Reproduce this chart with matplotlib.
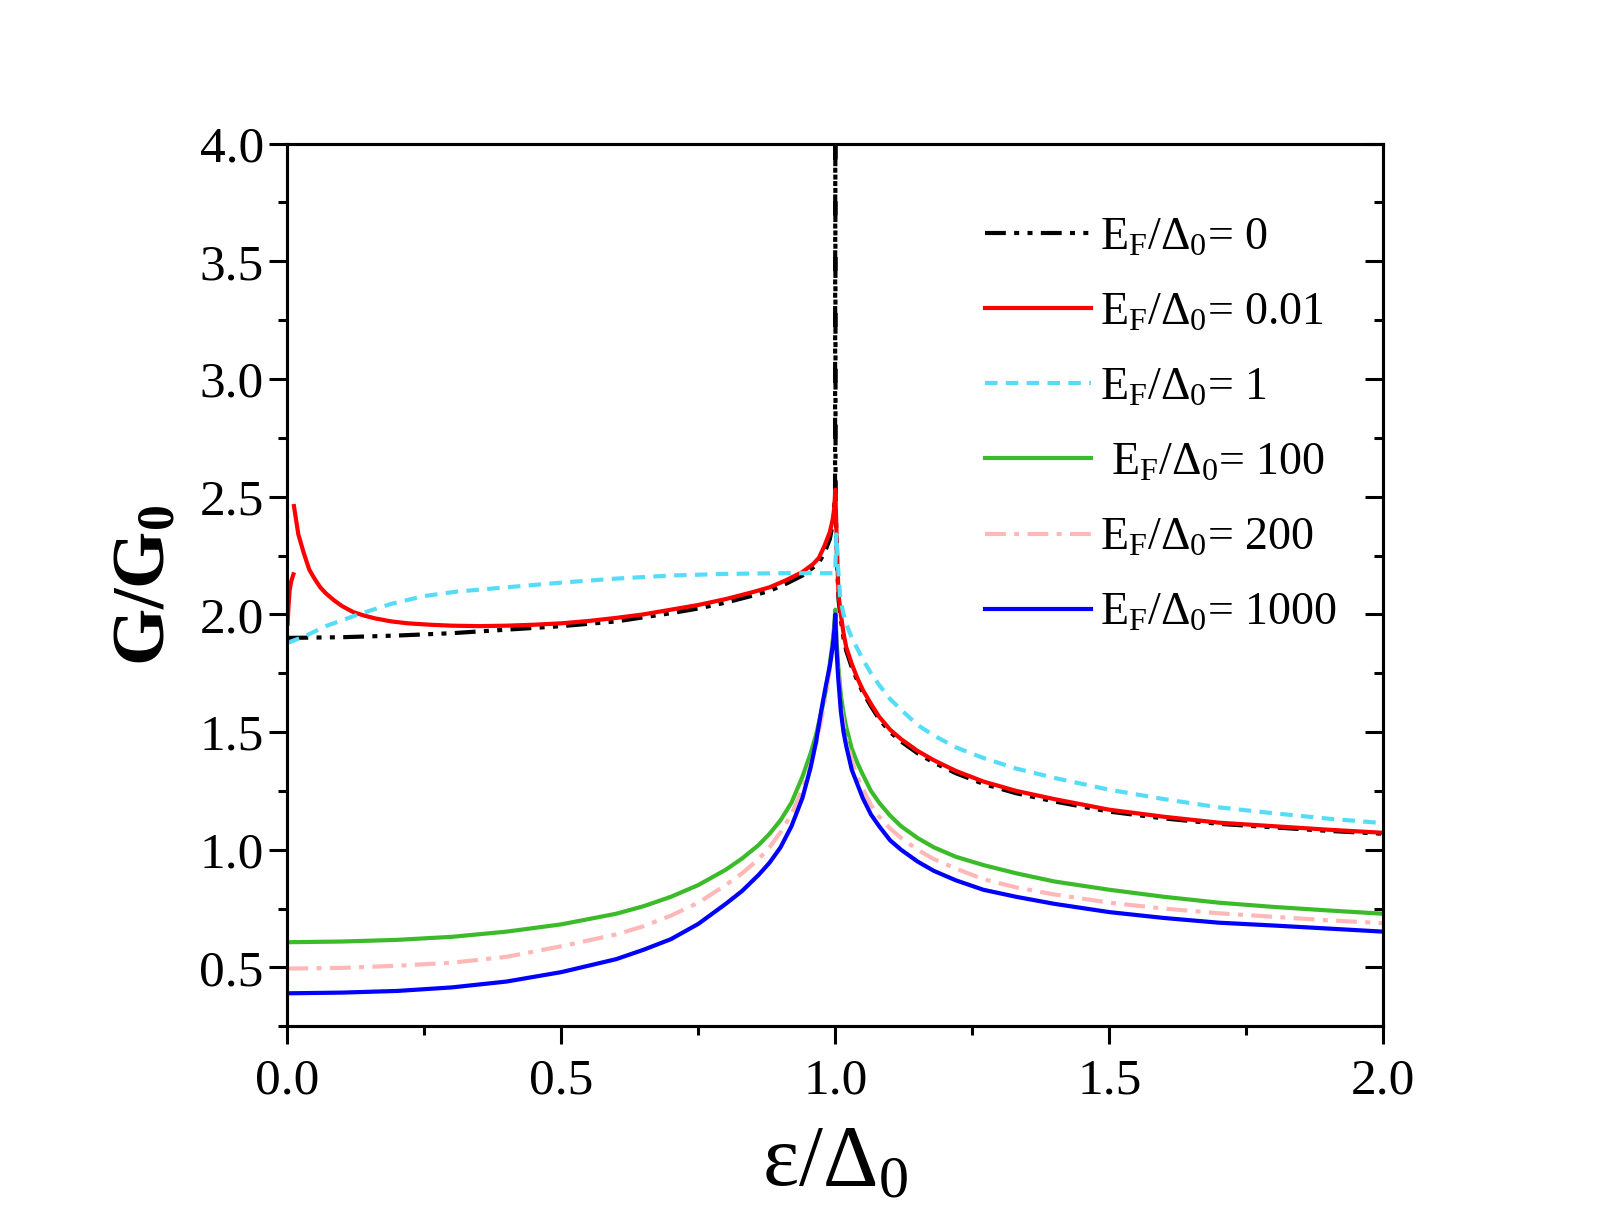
import matplotlib
matplotlib.use('Agg')
import matplotlib.pyplot as plt
from matplotlib.ticker import MultipleLocator, FormatStrFormatter

plt.rcParams['font.family'] = ['Liberation Serif', 'DejaVu Serif']
plt.rcParams['mathtext.fontset'] = 'custom'
plt.rcParams['mathtext.rm'] = 'Liberation Serif'
plt.rcParams['mathtext.it'] = 'Liberation Serif'
plt.rcParams['mathtext.bf'] = 'Liberation Serif:bold'

# E_F/D0 = 0
x_black = [0, 0.1, 0.2, 0.3, 0.4, 0.5, 0.6, 0.7, 0.75, 0.8, 0.85, 0.88, 0.91, 0.94, 0.96, 0.97,
           0.98, 0.99, 0.995, 0.9995, 1.0, 1.0005, 1.002, 1.004, 1.006, 1.01, 1.015, 1.02, 1.03,
           1.04, 1.05, 1.065, 1.08, 1.1, 1.12, 1.15, 1.18, 1.22, 1.27, 1.33, 1.4, 1.5, 1.6,
           1.7, 1.8, 1.9, 2.0]
y_black = [1.90, 1.903, 1.91, 1.92, 1.935, 1.95, 1.97, 2.005, 2.025, 2.05, 2.08, 2.10, 2.13,
           2.165, 2.20, 2.22, 2.26, 2.32, 2.38, 2.5, 4.2, 2.5, 2.33, 2.17, 2.06, 1.98, 1.90,
           1.845, 1.775, 1.72, 1.67, 1.61, 1.555, 1.50, 1.46, 1.41, 1.37, 1.325, 1.28, 1.24,
           1.205, 1.162, 1.133, 1.11, 1.095, 1.08, 1.068]

# E_F/D0 = 0.01 (two branches)
x_red_a = [0.0005, 0.002, 0.004, 0.007, 0.011]
y_red_a = [1.96, 2.03, 2.10, 2.14, 2.17]
x_red = [0.012, 0.016, 0.02, 0.025, 0.03, 0.04, 0.05, 0.06, 0.07, 0.085, 0.1, 0.12, 0.14, 0.16,
         0.19, 0.22, 0.26, 0.3, 0.35, 0.4, 0.45, 0.5, 0.55, 0.6, 0.65, 0.7, 0.75, 0.8, 0.85,
         0.88, 0.91, 0.94, 0.96, 0.97, 0.98, 0.99, 0.995, 0.998, 1.0, 1.002, 1.004, 1.006,
         1.01, 1.015, 1.02, 1.03, 1.04, 1.05, 1.065, 1.08, 1.1, 1.12, 1.15, 1.18, 1.22, 1.27,
         1.33, 1.4, 1.5, 1.6, 1.7, 1.8, 1.9, 2.0]
y_red = [2.46, 2.40, 2.34, 2.30, 2.26, 2.19, 2.15, 2.115, 2.09, 2.06, 2.035, 2.01, 1.995, 1.983,
         1.97, 1.962, 1.956, 1.952, 1.950, 1.952, 1.956, 1.962, 1.972, 1.985, 2.00, 2.02, 2.04,
         2.065, 2.095, 2.115, 2.145, 2.18, 2.215, 2.24, 2.29, 2.35, 2.40, 2.45, 2.53, 2.36,
         2.20, 2.08, 2.00, 1.92, 1.86, 1.79, 1.73, 1.68, 1.62, 1.565, 1.51, 1.47, 1.42, 1.38,
         1.335, 1.29, 1.25, 1.215, 1.17, 1.14, 1.115, 1.10, 1.085, 1.072]

# E_F/D0 = 1
x_cyan = [0, 0.03, 0.07, 0.13, 0.19, 0.25, 0.31, 0.4, 0.5, 0.6, 0.7, 0.8, 0.9, 0.999, 1.0,
          1.002, 1.005, 1.009, 1.015, 1.02, 1.03, 1.04, 1.05, 1.065, 1.08, 1.1, 1.12, 1.15,
          1.18, 1.22, 1.27, 1.33, 1.4, 1.5, 1.6, 1.7, 1.8, 1.9, 2.0]
y_cyan = [1.879, 1.905, 1.95, 2.0, 2.045, 2.078, 2.097, 2.115, 2.135, 2.152, 2.165, 2.172, 2.175,
          2.175, 2.20, 2.34, 2.20, 2.07, 2.00, 1.96, 1.90, 1.855, 1.81, 1.75, 1.70, 1.64, 1.595,
          1.53, 1.485, 1.435, 1.39, 1.345, 1.305, 1.255, 1.215, 1.18, 1.155, 1.132, 1.113]

# E_F/D0 = 100, 200, 1000
x_s = [0, 0.1, 0.2, 0.3, 0.4, 0.5, 0.6, 0.65, 0.7, 0.75, 0.8, 0.83, 0.86, 0.88, 0.9, 0.92, 0.94,
       0.955, 0.965, 0.975, 0.983, 0.99, 0.995, 0.998, 1.0, 1.002, 1.005, 1.01, 1.015, 1.02,
       1.03, 1.04, 1.05, 1.065, 1.08, 1.1, 1.12, 1.15, 1.18, 1.22, 1.27, 1.33, 1.4, 1.5, 1.6,
       1.7, 1.8, 1.9, 2.0]
y_green = [0.607, 0.610, 0.617, 0.630, 0.652, 0.683, 0.728, 0.76, 0.80, 0.85, 0.915, 0.963, 1.02,
           1.068, 1.125, 1.20, 1.31, 1.41, 1.49, 1.59, 1.68, 1.79, 1.88, 1.95, 2.02, 1.90, 1.79,
           1.66, 1.58, 1.52, 1.43, 1.37, 1.32, 1.25, 1.20, 1.145, 1.10, 1.05, 1.01, 0.97,
           0.935, 0.90, 0.865, 0.83, 0.80, 0.775, 0.757, 0.742, 0.728]
y_pink = [0.495, 0.498, 0.507, 0.52, 0.545, 0.59, 0.64, 0.675, 0.72, 0.775, 0.85, 0.90, 0.96,
          1.01, 1.075, 1.15, 1.26, 1.36, 1.45, 1.56, 1.66, 1.77, 1.86, 1.93, 2.0, 1.87, 1.76,
          1.61, 1.53, 1.47, 1.38, 1.31, 1.26, 1.19, 1.14, 1.09, 1.05, 1.00, 0.96, 0.92, 0.875,
          0.84, 0.81, 0.775, 0.75, 0.73, 0.715, 0.70, 0.688]
y_blue = [0.39, 0.393, 0.40, 0.415, 0.44, 0.48, 0.535, 0.575, 0.62, 0.685, 0.77, 0.825, 0.893,
          0.945, 1.01, 1.10, 1.22, 1.35, 1.46, 1.60, 1.70, 1.78, 1.86, 1.93, 2.0, 1.86, 1.74,
          1.59, 1.50, 1.44, 1.34, 1.28, 1.22, 1.15, 1.10, 1.04, 1.00, 0.95, 0.91, 0.87, 0.83,
          0.80, 0.77, 0.735, 0.71, 0.69, 0.678, 0.665, 0.652]

labels = [r'$\mathrm{E_F/\Delta_0}$= 0', r'$\mathrm{E_F/\Delta_0}$= 0.01',
          r'$\mathrm{E_F/\Delta_0}$= 1', r' $\mathrm{E_F/\Delta_0}$= 100',
          r'$\mathrm{E_F/\Delta_0}$= 200', r'$\mathrm{E_F/\Delta_0}$= 1000']

fig = plt.figure(figsize=(16.09, 12.32), dpi=100)
ax = fig.add_axes([0.1786, 0.167, 0.6811, 0.7164])

lw = 3
ax.plot(x_black, y_black, color='black', lw=lw, dashes=(5, 2, 1.2, 2, 1.2, 2), label=labels[0])
ax.plot(x_red_a, y_red_a, color='#ff0000', lw=lw)
ax.plot(x_red, y_red, color='#ff0000', lw=lw, label=labels[1])
ax.plot(x_cyan, y_cyan, color='#55ddf8', lw=lw, dashes=(3, 2), label=labels[2])
ax.plot(x_s, y_green, color='#3cbb2a', lw=lw, label=labels[3])
ax.plot(x_s, y_pink, color='#ffb8b8', lw=lw, dashes=(5, 2, 1.2, 2), label=labels[4])
ax.plot(x_s, y_blue, color='#0000ff', lw=lw, label=labels[5])

ax.set_xlim(0, 2.0)
ax.set_ylim(0.25, 4.0)
ax.xaxis.set_major_locator(MultipleLocator(0.5))
ax.xaxis.set_minor_locator(MultipleLocator(0.25))
ax.yaxis.set_major_locator(MultipleLocator(0.5))
ax.yaxis.set_minor_locator(MultipleLocator(0.25))
ax.xaxis.set_major_formatter(FormatStrFormatter('%.1f'))
ax.yaxis.set_major_formatter(FormatStrFormatter('%.1f'))

for s in ax.spines.values():
    s.set_linewidth(2.2)
ax.tick_params(which='both', direction='out', width=2.2, labelsize=37,
               top=False, right=False)
ax.tick_params(which='major', length=13)
ax.tick_params(which='minor', length=6.5)
ax.tick_params(axis='x', which='major', pad=10)
ax.tick_params(axis='y', which='major', pad=4)

# inward ticks on the right side
ax2 = ax.twinx()
ax2.set_ylim(ax.get_ylim())
ax2.yaxis.set_major_locator(MultipleLocator(0.5))
ax2.yaxis.set_minor_locator(MultipleLocator(0.25))
ax2.tick_params(which='both', direction='in', width=2.2, labelright=False)
ax2.tick_params(which='major', length=13)
ax2.tick_params(which='minor', length=6.5)
for s in ax2.spines.values():
    s.set_linewidth(2.2)

ax.set_xlabel(r'$\mathrm{\varepsilon/\Delta_0}$', fontsize=62, labelpad=14)
ax.set_ylabel(r'$\mathbf{G/G_0}$', fontsize=53, labelpad=14)

leg = ax.legend(loc='upper left', bbox_to_anchor=(0.637, 0.917), frameon=False,
                fontsize=33, handlelength=2.3, handletextpad=0.2, labelspacing=0.71,
                borderpad=0, borderaxespad=0)

fig.savefig('out.png', dpi=100)
